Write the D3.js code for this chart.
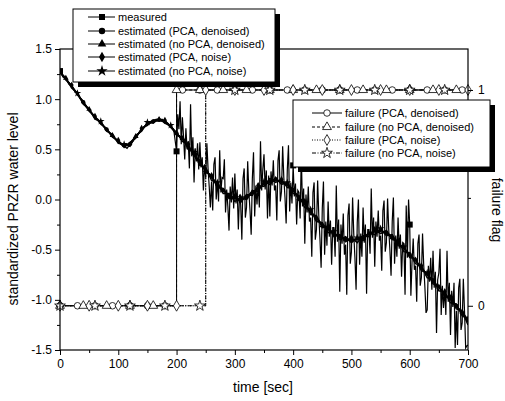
<!DOCTYPE html>
<html>
<head>
<meta charset="utf-8">
<script src="https://cdn.jsdelivr.net/npm/d3@7"></script>
<style>
  body { margin: 0; background: #fff; }
  text { font-family: "Liberation Sans", Arial, sans-serif; }
</style>
</head>
<body>
<svg id="chart" width="505" height="401"></svg>
<script>
// measured signal, 0..195 s every 5 s
const measuredEarly = [1.28,1.22,1.21,1.15,1.13,1.08,1.05,1.00,0.98,0.92,
  0.89,0.86,0.82,0.80,0.76,0.73,0.70,0.66,0.63,0.60,
  0.58,0.55,0.53,0.51,0.55,0.58,0.63,0.66,0.70,0.73,
  0.75,0.77,0.78,0.80,0.79,0.80,0.78,0.76,0.73,0.70];
// measured signal, 200..700 s every 2 s (noise added after 200 s)
const measuredLate = [
  0.48,0.85,0.70,0.98,0.55, 0.82,0.62,0.40,0.71,0.50, 0.58,0.31,0.95,0.43,0.62, 0.17,0.51,0.38,0.56,0.30,
  0.57,0.32,0.42,0.09,0.35, 0.22,0.56,0.31,0.13,-0.08, 0.18,-0.11,0.35,0.42,0.00, 0.19,-0.02,0.49,0.07,0.22,
  0.21,0.40,-0.13,0.10,-0.07, -0.31,0.13,-0.03,0.22,-0.09, 0.26,-0.04,0.10,-0.30,0.05, -0.05,-0.40,0.21,0.31,-0.18,
  -0.08,0.38,0.08,-0.11,-0.35, 0.21,0.47,-0.17,0.14,-0.05, 0.16,-0.08,0.58,0.09,0.30, 0.45,0.10,0.29,-0.19,0.24,
  -0.17,0.28,0.14,0.39,0.09, 0.14,-0.21,0.39,0.49,-0.02, 0.08,0.53,0.22,0.02,-0.24, 0.30,0.54,-0.12,0.17,-0.04,
  0.34,0.03,0.16,-0.25,0.09, 0.07,-0.19,0.44,-0.07,0.11, -0.44,0.05,-0.13,0.13,-0.22, -0.18,-0.57,0.07,0.17,-0.40,
  -0.30,0.19,-0.16,-0.39,-0.68, -0.09,0.18,-0.55,-0.22,-0.46, -0.02,-0.37,-0.21,-0.65,-0.28, -0.28,-0.57,0.14,-0.42,-0.20,
  -0.92,-0.25,-0.44,-0.14,-0.55, -0.45,-0.95,-0.16,-0.04,-0.64, -0.52,0.02,-0.34,-0.58,-0.90, -0.23,0.00,-0.65,-0.34,-0.57,
  -0.08,-0.43,-0.25,-0.94,-0.30, -0.30,-0.54,0.11,-0.38,-0.18, -0.67,-0.22,-0.37,-0.11,-0.41, -0.36,-0.71,-0.11,-0.01,-0.52,
  -0.43,0.01,-0.30,-0.50,-0.76, -0.22,0.02,-0.64,-0.36,-0.57, -0.18,-0.49,-0.35,-0.77,-0.43, -0.44,-0.95,-0.06,-0.58,0.00,
  -0.25,-0.96,-0.62,-0.39,-0.70, -0.66,-1.02,-0.44,-0.35,-0.86, -0.78,-0.34,-0.65,-0.87,-1.13, -1.10,-0.66,-0.82,-0.58,-0.90,
  -0.51,-0.88,-0.72,-1.33,-0.80, -0.73,-0.49,-1.15,-0.86,-1.08, -0.89,-1.15,-0.51,-1.02,-0.83, -1.35,-0.91,-1.07,-0.83,-1.48,
  -1.11,-1.45,-0.88,-0.79,-1.30, -1.23,-0.79,-1.11,-1.48,-1.46,
  -1.45];
// estimated signals, 0..700 s every 10 s
const estPcaDen = [1.27,1.20,1.13,1.05,0.97,0.89,0.82,0.76,0.70,0.63,
  0.58,0.54,0.55,0.62,0.70,0.75,0.78,0.79,0.78,0.73,
  0.66,0.60,0.53,0.45,0.37,0.30,0.22,0.15,0.09,0.04,
  0.01,0.00,0.02,0.06,0.11,0.15,0.18,0.19,0.18,0.15,
  0.09,0.02,-0.05,-0.12,-0.19,-0.25,-0.30,-0.34,-0.37,-0.39,
  -0.40,-0.40,-0.38,-0.35,-0.32,-0.31,-0.33,-0.37,-0.43,-0.49,
  -0.55,-0.61,-0.68,-0.75,-0.81,-0.88,-0.94,-1.00,-1.06,-1.13,-1.22];
const estNoPcaDen = [1.26,1.21,1.12,1.06,0.96,0.90,0.81,0.77,0.69,0.64,
  0.57,0.53,0.56,0.63,0.69,0.76,0.79,0.80,0.77,0.72,
  0.65,0.61,0.52,0.46,0.36,0.29,0.23,0.14,0.10,0.03,
  0.02,-0.01,0.03,0.07,0.10,0.16,0.17,0.20,0.17,0.14,
  0.10,0.01,-0.04,-0.13,-0.18,-0.26,-0.29,-0.35,-0.36,-0.40,
  -0.41,-0.39,-0.37,-0.34,-0.31,-0.32,-0.34,-0.38,-0.44,-0.48,
  -0.56,-0.60,-0.69,-0.74,-0.82,-0.87,-0.95,-0.99,-1.07,-1.12,-1.20];
const estPcaNoise = [1.28,1.19,1.14,1.04,0.98,0.88,0.83,0.75,0.71,0.62,
  0.59,0.52,0.57,0.61,0.71,0.74,0.79,0.78,0.79,0.72,
  0.67,0.58,0.55,0.43,0.39,0.27,0.24,0.12,0.11,0.01,
  0.03,-0.03,0.05,0.04,0.14,0.13,0.21,0.17,0.20,0.12,
  0.11,-0.01,-0.02,-0.15,-0.16,-0.28,-0.27,-0.37,-0.35,-0.42,
  -0.38,-0.43,-0.36,-0.37,-0.30,-0.34,-0.31,-0.40,-0.41,-0.52,
  -0.53,-0.64,-0.66,-0.78,-0.79,-0.91,-0.92,-1.03,-1.04,-1.16,-1.19];
const estNoPcaNoise = [1.27,1.21,1.11,1.06,0.95,0.90,0.80,0.78,0.68,0.65,
  0.56,0.55,0.53,0.64,0.68,0.77,0.76,0.81,0.76,0.74,
  0.64,0.62,0.50,0.47,0.34,0.32,0.19,0.17,0.06,0.06,
  -0.02,0.02,0.00,0.09,0.08,0.18,0.15,0.22,0.15,0.17,
  0.06,0.04,-0.08,-0.10,-0.22,-0.23,-0.33,-0.32,-0.40,-0.37,
  -0.43,-0.38,-0.41,-0.33,-0.35,-0.29,-0.36,-0.35,-0.46,-0.47,
  -0.58,-0.59,-0.71,-0.73,-0.84,-0.86,-0.97,-0.98,-1.09,-1.11,-1.25];

// failure flags: time the flag switches 0 -> 1, and marker spacing (sec)
const failLabels = ["failure (PCA, denoised)", "failure (no PCA, denoised)", "failure (PCA, noise)", "failure (no PCA, noise)"];
const failSwitch = [200, 200, 250, 250];
const failMarkEvery = [30, 40, 50, 60];

const estLabels = ["measured", "estimated (PCA, denoised)", "estimated (no PCA, denoised)", "estimated (PCA, noise)", "estimated (no PCA, noise)"];
const xTicks = [0, 100, 200, 300, 400, 500, 600, 700];
const yTicks = [-1.5, -1.0, -0.5, 0.0, 0.5, 1.0, 1.5];

const svg = d3.select("#chart");
const x = d3.scaleLinear().domain([0, 700]).range([60, 468]);
const y = d3.scaleLinear().domain([-1.5, 1.5]).range([350, 49]);
const yf = d3.scaleLinear().domain([-0.205, 1.19]).range([350, 49]);

svg.append("defs").append("clipPath").attr("id", "plot")
  .append("rect").attr("x", 60).attr("y", 49).attr("width", 408).attr("height", 301);

const symbols = [d3.symbolCircle, d3.symbolTriangle, d3.symbolDiamond, d3.symbolStar];
const dashes = [null, "3,2", "1,1.5", "4,1.5,1,1.5"];

const g = svg.append("g").attr("clip-path", "url(#plot)");

// measured
const measured = measuredEarly.map((v, i) => [i * 5, v])
  .concat(measuredLate.map((v, i) => [200 + i * 2, v]));
const line = d3.line().x(d => x(d[0])).y(d => y(d[1]));
g.append("path").datum(measured).attr("d", line)
  .attr("fill", "none").attr("stroke", "#000").attr("stroke-width", 1.2);

// estimated
const ests = [estPcaDen, estNoPcaDen, estPcaNoise, estNoPcaNoise];
ests.forEach((arr, k) => {
  const pts = arr.map((v, i) => [i * 10, v]);
  g.append("path").datum(pts).attr("d", line)
    .attr("fill", "none").attr("stroke", "#000").attr("stroke-width", 1.5);
  g.selectAll(null).data(pts.filter((d, i) => i % 4 === k)).enter().append("path")
    .attr("transform", d => `translate(${x(d[0])},${y(d[1])})`)
    .attr("d", d3.symbol().type(symbols[k]).size(k === 3 ? 18 : 14))
    .attr("fill", "#000");
});
g.selectAll(null).data(measured.filter(d => d[0] % 200 === 0)).enter().append("rect")
  .attr("x", d => x(d[0]) - 3).attr("y", d => y(d[1]) - 3)
  .attr("width", 6).attr("height", 6).attr("fill", "#000");

// failure flags
failSwitch.forEach((s, k) => {
  const pts = [[0, 0], [s, 0], [s, 1], [700, 1]];
  svg.append("path").datum(pts)
    .attr("d", d3.line().x(d => x(d[0])).y(d => yf(d[1])))
    .attr("fill", "none").attr("stroke", "#000").attr("stroke-width", 1)
    .attr("stroke-dasharray", dashes[k]);
});
failSwitch.forEach((s, k) => {
  const marks = d3.range(0, 701, failMarkEvery[k]).map(t => [t, t >= s ? 1 : 0]);
  svg.selectAll(null).data(marks).enter().append("path")
    .attr("transform", d => `translate(${x(d[0])},${yf(d[1])})`)
    .attr("d", d3.symbol().type(symbols[k]).size(k === 3 ? 36 : 34))
    .attr("fill", "#fff").attr("stroke", "#000").attr("stroke-width", 0.8);
});

// frame and axes
svg.append("rect").attr("x", 60).attr("y", 49).attr("width", 408).attr("height", 301)
  .attr("fill", "none").attr("stroke", "#000").attr("stroke-width", 1.2);

function styleAxis(sel) {
  sel.select(".domain").remove();
  sel.selectAll("line").attr("stroke", "#000");
  sel.selectAll("text").attr("font-size", 12).attr("fill", "#000")
    .attr("font-family", '"Liberation Sans", Arial, sans-serif');
}
svg.append("g").attr("transform", "translate(0,350)")
  .call(d3.axisBottom(x).tickValues(xTicks).tickSize(5).tickPadding(4)).call(styleAxis);
svg.append("g").attr("transform", "translate(0,350)")
  .call(d3.axisBottom(x).tickValues(d3.range(50, 700, 100)).tickSize(3).tickFormat("")).call(styleAxis);
svg.append("g").attr("transform", "translate(60,0)")
  .call(d3.axisLeft(y).tickValues(yTicks).tickSize(5).tickPadding(3).tickFormat(d => d.toFixed(1))).call(styleAxis);
svg.append("g").attr("transform", "translate(60,0)")
  .call(d3.axisLeft(y).tickValues(d3.range(-1.25, 1.5, 0.5)).tickSize(3).tickFormat("")).call(styleAxis);
svg.append("g").attr("transform", "translate(468,0)")
  .call(d3.axisRight(yf).tickValues([0, 1]).tickSize(5).tickPadding(5).tickFormat(d3.format("d"))).call(styleAxis);
svg.append("g").attr("transform", "translate(468,0)")
  .call(d3.axisRight(yf).tickValues([0.5]).tickSize(3).tickFormat("")).call(styleAxis);

svg.append("text").attr("x", 263).attr("y", 392).attr("text-anchor", "middle")
  .attr("font-size", 14).text("time [sec]");
svg.append("text").attr("transform", "translate(18,209) rotate(-90)").attr("text-anchor", "middle")
  .attr("font-size", 14).text("standardized PRZR water level");
svg.append("text").attr("transform", "translate(492,210) rotate(90)").attr("text-anchor", "middle")
  .attr("font-size", 14).text("failure flag");

// legends
function legendBox(x0, y0, w, h) {
  svg.append("rect").attr("x", x0 + 5).attr("y", y0 + 5).attr("width", w).attr("height", h).attr("fill", "#000");
  svg.append("rect").attr("x", x0).attr("y", y0).attr("width", w).attr("height", h)
    .attr("fill", "#fff").attr("stroke", "#000").attr("stroke-width", 1);
}
legendBox(73, 9, 202, 73);
const leg1Y = [17, 31, 44, 57, 71];
estLabels.forEach((lab, i) => {
  const yy = leg1Y[i];
  svg.append("line").attr("x1", 88).attr("x2", 115).attr("y1", yy).attr("y2", yy)
    .attr("stroke", "#000").attr("stroke-width", 1);
  if (i === 0) {
    svg.append("rect").attr("x", 99).attr("y", yy - 3).attr("width", 6).attr("height", 6).attr("fill", "#000");
  } else {
    svg.append("path").attr("transform", `translate(102,${yy})`)
      .attr("d", d3.symbol().type(symbols[i - 1]).size(i === 4 ? 40 : 32)).attr("fill", "#000");
  }
  svg.append("text").attr("x", 118).attr("y", yy + 4).attr("font-size", 11).text(lab);
});

legendBox(293, 100, 197, 67);
const leg2Y = [113, 127, 140, 153];
failLabels.forEach((lab, i) => {
  const yy = leg2Y[i];
  svg.append("line").attr("x1", 312).attr("x2", 342).attr("y1", yy).attr("y2", yy)
    .attr("stroke", "#000").attr("stroke-width", 1).attr("stroke-dasharray", dashes[i]);
  svg.append("path").attr("transform", `translate(327,${yy})`)
    .attr("d", d3.symbol().type(symbols[i]).size(i === 3 ? 36 : 34))
    .attr("fill", "#fff").attr("stroke", "#000").attr("stroke-width", 0.8);
  svg.append("text").attr("x", 345).attr("y", yy + 4).attr("font-size", 11).text(lab);
});
</script>
</body>
</html>
